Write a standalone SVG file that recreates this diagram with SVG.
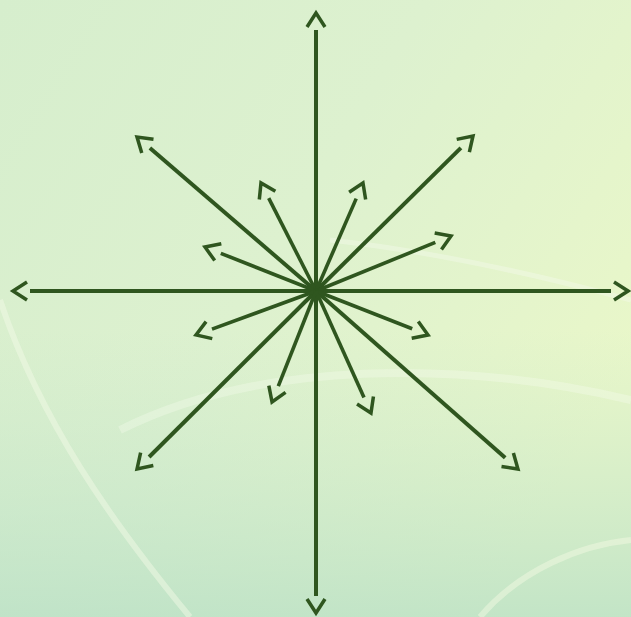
<svg xmlns="http://www.w3.org/2000/svg" width="631" height="617" viewBox="0 0 631 617">
<defs>
<linearGradient id="bg" x1="0" y1="0" x2="1" y2="0.6">
<stop offset="0" stop-color="#d6eecd"/>
<stop offset="0.5" stop-color="#ddf1cf"/>
<stop offset="1" stop-color="#e9f7c9"/>
</linearGradient>
<linearGradient id="bl" x1="0" y1="0" x2="0" y2="1">
<stop offset="0" stop-color="#c6e6cc" stop-opacity="0"/>
<stop offset="1" stop-color="#b9e0c6" stop-opacity="0.8"/>
</linearGradient>
<marker id="ah" markerUnits="userSpaceOnUse" viewBox="-4 -14 26 28" refX="0" refY="0" markerWidth="26" markerHeight="28" orient="auto" overflow="visible">
<path d="M3,-9 L17,0 L3,9" fill="none" stroke="#2f561f" stroke-width="3.5" stroke-linejoin="miter" stroke-linecap="butt"/>
</marker>
<style>
.a{stroke:#2f561f;stroke-width:4;fill:none;marker-end:url(#ah)}
.s{stroke-width:3.6}
</style>
</defs>
<rect width="631" height="617" fill="url(#bg)"/>
<rect x="0" y="330" width="631" height="287" fill="url(#bl)"/>
<path d="M0,300 C40,420 110,520 190,617" stroke="#f2fae6" stroke-width="6" fill="none" opacity="0.5"/>
<path d="M120,430 C260,360 460,360 631,400" stroke="#f6fbee" stroke-width="8" fill="none" opacity="0.35"/>
<path d="M330,240 C420,250 520,270 631,300" stroke="#f6fbee" stroke-width="5" fill="none" opacity="0.4"/>
<path d="M480,617 C520,570 580,545 631,540" stroke="#f6fbe4" stroke-width="6" fill="none" opacity="0.45"/>
<g id="connectors">
<line class="a" x1="316" y1="291" x2="316" y2="30"/>
<line class="a" x1="316" y1="291" x2="316" y2="596"/>
<line class="a" x1="316" y1="291" x2="30" y2="291"/>
<line class="a" x1="316" y1="291" x2="611" y2="291"/>
<line class="a" x1="316" y1="291" x2="149.9" y2="148.1"/>
<line class="a" x1="316" y1="291" x2="460.9" y2="147.9"/>
<line class="a" x1="316" y1="291" x2="149.1" y2="457"/>
<line class="a" x1="316" y1="291" x2="505.2" y2="457.8"/>
<line class="a s" x1="316" y1="291" x2="268.7" y2="198.1"/>
<line class="a s" x1="316" y1="291" x2="356.2" y2="198.6"/>
<line class="a s" x1="316" y1="291" x2="220.8" y2="253.3"/>
<line class="a s" x1="316" y1="291" x2="435.3" y2="242.4"/>
<line class="a s" x1="316" y1="291" x2="212" y2="329.1"/>
<line class="a s" x1="316" y1="291" x2="412.2" y2="328.8"/>
<line class="a s" x1="316" y1="291" x2="278.3" y2="386.2"/>
<line class="a s" x1="316" y1="291" x2="364" y2="397.5"/>
</g>
</svg>
